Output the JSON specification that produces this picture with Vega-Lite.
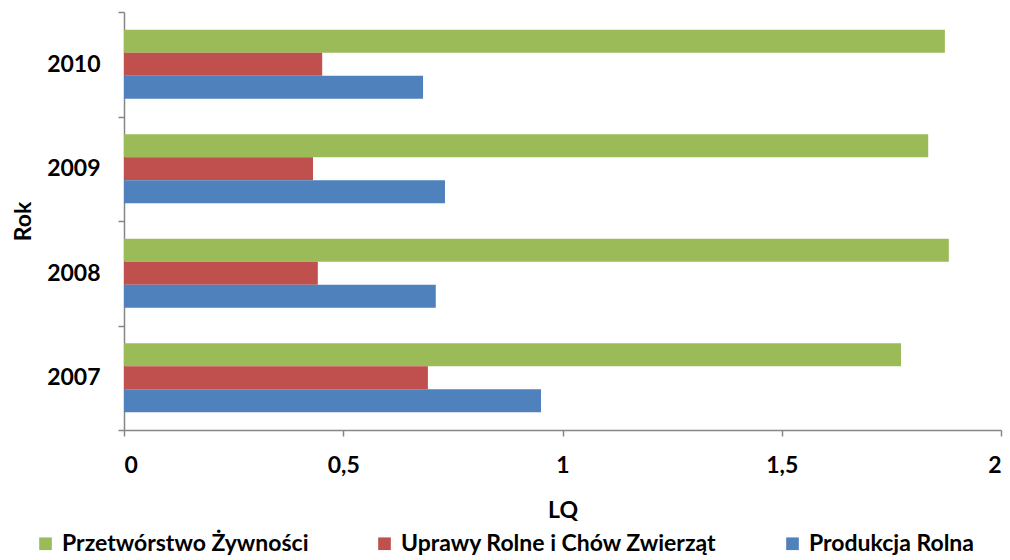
{
  "$schema": "https://vega.github.io/schema/vega-lite/v6.json",
  "width": 877,
  "height": 418,
  "autosize": "none",
  "padding": {"left": 124, "top": 12, "right": 9, "bottom": 130},
  "config": {
    "font": "Lato",
    "view": {"stroke": null},
    "axis": {
      "domainColor": "#868686",
      "tickColor": "#868686",
      "domainWidth": 1.5,
      "tickWidth": 1.5,
      "tickSize": 6,
      "grid": false,
      "labelFont": "Lato",
      "labelFontSize": 23,
      "labelFontWeight": "bold",
      "labelColor": "#000000",
      "titleFont": "Lato",
      "titleFontSize": 23,
      "titleFontWeight": "bold",
      "titleColor": "#000000"
    }
  },
  "data": {
    "values": [
      {"year": "2010", "s": "Przetwórstwo Żywności", "v": 1.872},
      {"year": "2010", "s": "Uprawy Rolne i Chów Zwierząt", "v": 0.452},
      {"year": "2010", "s": "Produkcja Rolna", "v": 0.682},
      {"year": "2009", "s": "Przetwórstwo Żywności", "v": 1.834},
      {"year": "2009", "s": "Uprawy Rolne i Chów Zwierząt", "v": 0.431},
      {"year": "2009", "s": "Produkcja Rolna", "v": 0.732},
      {"year": "2008", "s": "Przetwórstwo Żywności", "v": 1.881},
      {"year": "2008", "s": "Uprawy Rolne i Chów Zwierząt", "v": 0.442},
      {"year": "2008", "s": "Produkcja Rolna", "v": 0.711},
      {"year": "2007", "s": "Przetwórstwo Żywności", "v": 1.772},
      {"year": "2007", "s": "Uprawy Rolne i Chów Zwierząt", "v": 0.693},
      {"year": "2007", "s": "Produkcja Rolna", "v": 0.951}
    ]
  },
  "mark": {"type": "bar"},
  "encoding": {
    "y": {
      "field": "year",
      "type": "nominal",
      "sort": "descending",
      "scale": {"paddingInner": 0, "paddingOuter": 0},
      "axis": {
        "title": "Rok",
        "tickBand": "extent",
        "labelPadding": 18,
        "titlePadding": 11
      }
    },
    "yOffset": {
      "field": "s",
      "type": "nominal",
      "sort": ["Przetwórstwo Żywności", "Uprawy Rolne i Chów Zwierząt", "Produkcja Rolna"],
      "scale": {"paddingInner": 0, "paddingOuter": 0.77}
    },
    "x": {
      "field": "v",
      "type": "quantitative",
      "scale": {"domain": [0, 2], "nice": false},
      "axis": {
        "title": "LQ",
        "values": [0, 0.5, 1, 1.5, 2],
        "format": "~r",
        "labelExpr": "replace(datum.label, '.', ',')",
        "labelPadding": 18,
        "titlePadding": 22
      }
    },
    "color": {
      "field": "s",
      "type": "nominal",
      "sort": ["Przetwórstwo Żywności", "Uprawy Rolne i Chów Zwierząt", "Produkcja Rolna"],
      "scale": {
        "domain": ["Przetwórstwo Żywności", "Uprawy Rolne i Chów Zwierząt", "Produkcja Rolna"],
        "range": ["#9BBB59", "#C0504D", "#4F81BD"]
      },
      "legend": {
        "title": null,
        "orient": "none",
        "legendX": -90,
        "legendY": 520,
        "direction": "horizontal",
        "symbolType": "square",
        "symbolSize": 160,
        "symbolStrokeWidth": 0,
        "labelFont": "Lato",
        "labelFontSize": 23,
        "labelFontWeight": "bold",
        "labelColor": "#000000",
        "labelLimit": 500,
        "labelOffset": 5,
        "columnPadding": 64
      }
    }
  }
}
